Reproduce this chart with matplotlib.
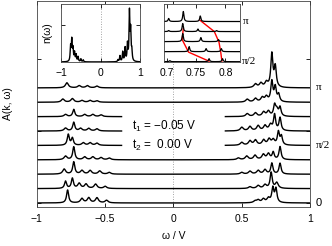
import numpy as np
import matplotlib
matplotlib.use("Agg")
import matplotlib.pyplot as plt
from matplotlib import transforms

# main panel: peak positions / heights, k = pi (top) ... 0 (bottom)
main_pos = [
    [-0.78, -0.69, -0.63, -0.56, 0.60, 0.64, 0.68, 0.72, 0.745],
    [-0.81, -0.74, -0.67, -0.61, -0.56, 0.54, 0.60, 0.65, 0.68, 0.72, 0.745, 0.77],
    [-0.79, -0.73, -0.65, -0.59, -0.53, 0.54, 0.60, 0.66, 0.695, 0.74, 0.756, 0.78],
    [-0.79, -0.73, -0.68, -0.62, -0.56, 0.50, 0.56, 0.62, 0.67, 0.71, 0.74, 0.78],
    [-0.77, -0.74, -0.66, -0.61, -0.56, 0.50, 0.56, 0.60, 0.66, 0.70, 0.73, 0.768, 0.79],
    [-0.79, -0.73, -0.65, -0.59, -0.53, -0.47, 0.475, 0.536, 0.597, 0.658, 0.695, 0.73, 0.78],
    [-0.80, -0.73, -0.67, -0.61, -0.54, -0.47, 0.50, 0.56, 0.62, 0.67, 0.72, 0.78],
    [-0.79, -0.74, -0.69, -0.64, -0.57, -0.50, 0.56, 0.62, 0.67, 0.715, 0.756],
    [-0.775, -0.67, -0.62, -0.56, -0.49, 0.597, 0.62, 0.658, 0.695, 0.727, 0.75],
]
main_amp = [
    [0.35, 0.15, 0.15, 0.12, 0.25, 0.3, 0.35, 2.3, 1.4],
    [0.22, 0.25, 0.12, 0.12, 0.1, 0.2, 0.25, 0.3, 0.35, 1.4, 1.0, 0.5],
    [0.15, 0.5, 0.15, 0.15, 0.12, 0.2, 0.25, 0.3, 0.35, 0.7, 0.45, 0.6],
    [0.2, 0.6, 0.18, 0.18, 0.15, 0.25, 0.3, 0.35, 0.35, 0.4, 1.1, 0.9],
    [0.75, 0.5, 0.18, 0.18, 0.15, 0.2, 0.3, 0.35, 0.35, 0.4, 0.35, 0.9, 0.6],
    [0.25, 0.9, 0.2, 0.2, 0.15, 0.12, 0.12, 0.25, 0.3, 0.35, 0.4, 0.5, 0.9],
    [0.35, 0.85, 0.25, 0.25, 0.22, 0.12, 0.12, 0.2, 0.25, 0.3, 0.75, 0.75],
    [0.5, 0.7, 0.35, 0.3, 0.3, 0.15, 0.12, 0.2, 0.25, 1.1, 0.4],
    [0.9, 0.3, 0.35, 0.35, 0.18, 0.12, 0.18, 0.25, 0.3, 1.0, 0.95],
]
broken_curves = [2, 3, 4]   # curves interrupted behind the hopping text
gap_edge = 0.38

# inset 1: density of states n(omega)
dos_pos = [-0.76, -0.73, -0.70, -0.66, -0.62, -0.57, -0.50, -0.44,
           0.44, 0.49, 0.56, 0.62, 0.68, 0.73, 0.76, 0.79]
dos_amp = [0.3, 0.43, 0.25, 0.18, 0.14, 0.1, 0.06, 0.04,
           0.04, 0.12, 0.2, 0.28, 0.35, 1.0, 0.6, 0.2]

# inset 2: zoom on upper band, k = pi ... pi/2
zoom_pos = [
    [0.703, 0.728, 0.757],
    [0.703, 0.727, 0.753, 0.785],
    [0.727, 0.758, 0.788],
    [0.738, 0.767, 0.793],
    [0.705, 0.772, 0.795],
]
zoom_amp = [
    [0.3, 1.0, 0.55],
    [0.1, 0.8, 0.25, 0.1],
    [0.8, 0.4, 0.2],
    [0.5, 0.3, 0.3],
    [0.1, 0.3, 0.3],
]
track_a_x = [0.756, 0.781, 0.789, 0.792, 0.794]
track_a_y = [4.15, 3.0, 1.95, 0.95, 0.05]
track_b_x = [0.728, 0.726, 0.737, 0.772]
track_b_y = [3.3, 2.2, 0.95, 0.05]

t_labels = ["t$_1$ = \u22120.05 V", "t$_2$ =  0.00 V"]
k_labels = ["\u03c0", "\u03c0/2", "0"]


def spectrum(x, pos, amp, gamma, gamma_small=None):
    # sum of Lorentzians; small side peaks get the wider width
    y = np.zeros_like(x)
    for p, a in zip(pos, amp):
        g = gamma if (gamma_small is None or a >= 0.5) else gamma_small
        y += a * g ** 2 / ((x - p) ** 2 + g ** 2)
    return y


def style_axes(ax):
    ax.tick_params(direction="in", top=True, right=True, length=3, width=0.6,
                   labelsize=7.5, pad=4)
    for s in ax.spines.values():
        s.set_linewidth(0.6)
        s.set_color("#444444")


plt.rcParams["font.family"] = ["Liberation Sans", "DejaVu Sans"]
plt.rcParams["mathtext.default"] = "regular"
plt.rcParams["axes.unicode_minus"] = True

fig = plt.figure(figsize=(3.32, 2.46), dpi=100)
ax = fig.add_axes([0.111, 0.1585, 0.823, 0.837])

omega = np.linspace(-1, 1, 2001)
n_curves = len(main_pos)
for i, (pos, amp) in enumerate(zip(main_pos, main_amp)):
    offset = n_curves - 1 - i
    y = spectrum(omega, pos, amp, 0.009, 0.013) + offset
    if i in broken_curves:
        y[np.abs(omega) < gap_edge] = np.nan
    ax.plot(omega, y, color="black", lw=1.0)

ax.axvline(0, color="#888888", lw=0.6, ls=(0, (1, 2)), zorder=0)
ax.set_xlim(-1, 1)
ax.set_ylim(-0.28, 14.03)
ax.set_xticks([-1, -0.5, 0, 0.5, 1])
ax.set_xticklabels(["\u22121", "\u22120.5", "0", "0.5", "1"])
ax.set_yticks([0, 5, 10])
ax.set_yticklabels([])
style_axes(ax)
ax.tick_params(axis="x", pad=5)
ax.set_xlabel("\u03c9 / V", fontsize=7.5, labelpad=5)
ax.set_ylabel("A(k, \u03c9)", fontsize=7.5, labelpad=13)

ax.text(-0.30, 5.3, t_labels[0], fontsize=8.5, va="center", ha="left")
ax.text(-0.30, 4.0, t_labels[1], fontsize=8.5, va="center", ha="left")

trans = transforms.blended_transform_factory(ax.transAxes, ax.transData)
for lab, yv in zip(k_labels, [n_curves - 1, (n_curves - 1) / 2, 0]):
    fam = ["Liberation Serif"] if lab != "0" else ["Liberation Sans"]
    ax.text(1.02, yv, lab, transform=trans, fontsize=8, va="center",
            ha="left", family=fam)

# inset: n(omega)
ax1 = fig.add_axes([0.184, 0.748, 0.238, 0.236])
ax1.plot(omega, spectrum(omega, dos_pos, dos_amp, 0.012), color="black", lw=1.0)
ax1.axvline(0, color="#888888", lw=0.6, ls=(0, (1, 2)), zorder=0)
ax1.set_xlim(-1, 1)
ax1.set_ylim(0, 1.2)
ax1.set_xticks([-1, 0, 1])
ax1.set_xticklabels(["\u22121", "0", "1"])
ax1.set_yticks([0.77])
ax1.set_yticklabels([])
style_axes(ax1)
ax1.set_ylabel("n(\u03c9)", fontsize=7.5, labelpad=2)

# inset: zoom on the upper band
ax2 = fig.add_axes([0.494, 0.748, 0.229, 0.236])
omega_z = np.linspace(0.695, 0.825, 1500)
for i, (pos, amp) in enumerate(zip(zoom_pos, zoom_amp)):
    offset = len(zoom_pos) - 1 - i
    ax2.plot(omega_z, spectrum(omega_z, pos, amp, 0.0012) + offset,
             color="black", lw=0.9, zorder=2)
ax2.plot(track_a_x, track_a_y, color="red", lw=1.0, zorder=1)
ax2.plot(track_b_x, track_b_y, color="red", lw=1.0, zorder=1)
ax2.set_xlim(0.695, 0.825)
ax2.set_ylim(-0.03, 5.75)
ax2.set_xticks([0.7, 0.75, 0.8])
ax2.set_xticklabels(["0.7", "0.75", "0.8"])
ax2.set_yticks([])
style_axes(ax2)
trans2 = transforms.blended_transform_factory(ax2.transAxes, ax2.transData)
ax2.text(1.04, 4, k_labels[0], transform=trans2, fontsize=8, va="center",
         ha="left", family=["Liberation Serif"])
ax2.text(1.02, 0, k_labels[1], transform=trans2, fontsize=8, va="center",
         ha="left", family=["Liberation Serif"])

fig.savefig("out.png", dpi=100)
